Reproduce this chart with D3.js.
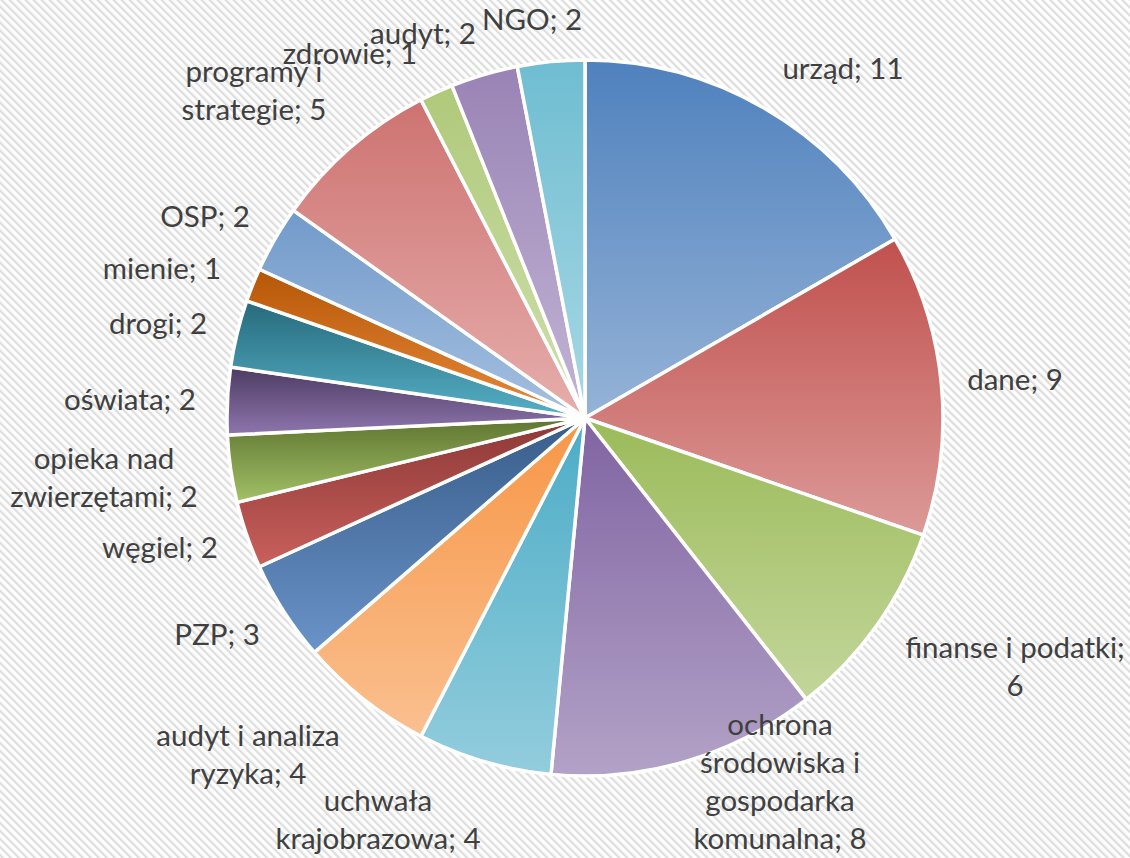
<!DOCTYPE html>
<html><head><meta charset="utf-8">
<script src="https://cdn.jsdelivr.net/npm/d3@7"></script>
<style>html,body{margin:0;padding:0;background:#fff;}svg{display:block;}</style>
</head><body>
<svg id="chart" width="1130" height="858"></svg>
<script>
// ---- data ----
const categories = ["urząd","dane","finanse i podatki","ochrona środowiska i gospodarka komunalna","uchwała krajobrazowa","audyt i analiza ryzyka","PZP","węgiel","opieka nad zwierzętami","oświata","drogi","mienie","OSP","programy i strategie","zdrowie","audyt","NGO"];
const values = [11,9,6,8,4,4,3,2,2,2,2,1,2,5,1,2,2];
// label lines (as wrapped in the reference)
const labelLines = [
  ["urząd; 11"],["dane; 9"],["finanse i podatki;","6"],
  ["ochrona","środowiska i","gospodarka","komunalna; 8"],
  ["uchwała","krajobrazowa; 4"],["audyt i analiza","ryzyka; 4"],["PZP; 3"],["węgiel; 2"],
  ["opieka nad","zwierzętami; 2"],["oświata; 2"],["drogi; 2"],["mienie; 1"],["OSP; 2"],
  ["programy i","strategie; 5"],["zdrowie; 1"],["audyt; 2"],["NGO; 2"]
];
// gradient colours: top (dark) -> bottom (light)
const topColors = ["#4f81bd","#c0504d","#9bbb59","#8064a2","#4bacc6","#f79646","#385d8a","#8c3836","#5f7530","#4d3b62","#276a7c","#b65708","#729aca","#cd7371","#afc97a","#9983b5","#6fbdd1"];
const bottomColors = ["#95b3d7","#dc9a98","#c3d69b","#b3a2c7","#93cddd","#fac090","#6a93c8","#c9605c","#a2c167","#8e76ae","#55b0c6","#e98a3b","#a5c0e0","#e6aeac","#cfe0ad","#c3b5d5","#a8d8e5"];

// ---- layout ----
const cx = 585, cy = 418, R = 358;
// label centre offsets from pie centre (Excel best-fit placement)
const labelPos = [[258,-346],[430,-35],[430,252],[195,367],[-207,405],[-337,340],[-368,220],[-425,133],[-481,63],[-455,-15],[-427,-91],[-423,-146],[-380,-198],[-331,-324],[-235,-361],[-162,-381],[-53,-395]];
const lineH = 38;

const svg = d3.select("#chart");
const defs = svg.append("defs");
const pat = defs.append("pattern").attr("id","bg").attr("patternUnits","userSpaceOnUse")
  .attr("width",5.66).attr("height",20).attr("patternTransform","rotate(-45)");
pat.append("rect").attr("width",5.66).attr("height",20).attr("fill","#fff");
pat.append("rect").attr("width",2.3).attr("height",20).attr("fill","#dedede");
svg.append("rect").attr("width",1130).attr("height",858).attr("fill","url(#bg)");

values.forEach((v,i)=>{
  const g = defs.append("linearGradient").attr("id","g"+i).attr("x1",0).attr("y1",0).attr("x2",0).attr("y2",1);
  g.append("stop").attr("offset","0%").attr("stop-color",topColors[i]);
  g.append("stop").attr("offset","100%").attr("stop-color",bottomColors[i]);
});

const pie = d3.pie().sort(null).value(d=>d)(values);
const arc = d3.arc().innerRadius(0).outerRadius(R);
const gp = svg.append("g").attr("transform",`translate(${cx},${cy})`);
gp.selectAll("path.slice").data(pie).join("path").attr("class","slice")
  .attr("d",arc).attr("fill",(d,i)=>`url(#g${i})`)
  .attr("stroke","#fff").attr("stroke-width",3.5).attr("stroke-linejoin","round");

const gl = gp.append("g").attr("font-family","Lato, 'Open Sans', sans-serif").attr("font-size",29.5).attr("fill","#404040").attr("text-anchor","middle");
labelLines.forEach((lines,i)=>{
  const [dx,dy] = labelPos[i];
  const t = gl.append("text").attr("x",dx).attr("y",dy - (lines.length-1)*lineH/2).attr("dominant-baseline","middle");
  lines.forEach((ln,k)=>{
    t.append("tspan").attr("x",dx).attr("dy",k===0?0:lineH).text(ln);
  });
});
</script>
</body></html>
